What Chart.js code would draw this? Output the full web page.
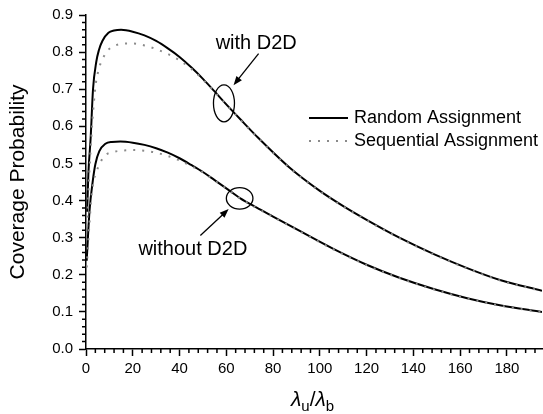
<!DOCTYPE html>
<html>
<head>
<meta charset="utf-8">
<script src="https://cdn.jsdelivr.net/npm/chart.js@4/dist/chart.umd.min.js"></script>
<style>
  html, body { margin: 0; padding: 0; background: #fff; }
  #wrap { width: 543px; height: 414px; }
</style>
</head>
<body>
<div id="wrap"><canvas id="chartCoverage"></canvas></div>
<script>
// values (x = lambda_u / lambda_b)
const randomWithD2dX = [0.5, 1, 2, 3, 4.4, 5.5, 7, 9.6, 12, 15, 20, 25, 30, 35, 40, 45, 50, 55, 59, 66, 73, 87, 100, 110, 120, 134, 149, 163, 177, 195];
const randomWithD2dY = [0.37, 0.47, 0.57, 0.70, 0.774, 0.805, 0.83, 0.852, 0.858, 0.86, 0.855, 0.845, 0.83, 0.81, 0.787, 0.759, 0.728, 0.694, 0.666, 0.619, 0.573, 0.489, 0.426, 0.385, 0.348, 0.300, 0.255, 0.218, 0.186, 0.157];

const sequentialWithD2dX = [0.5, 1, 2, 2.7, 3.3, 4.3, 5.2, 6.2, 7.9, 10, 13.4, 17, 20, 25, 30, 35, 40, 45, 50, 55, 59, 66, 73, 87, 100, 110, 120, 134, 149, 163, 177, 195];
const sequentialWithD2dY = [0.33, 0.42, 0.54, 0.61, 0.66, 0.72, 0.747, 0.769, 0.791, 0.809, 0.82, 0.823, 0.823, 0.818, 0.808, 0.795, 0.778, 0.755, 0.726, 0.693, 0.665, 0.618, 0.572, 0.488, 0.425, 0.384, 0.347, 0.299, 0.254, 0.217, 0.185, 0.156];

const randomWithoutD2dX = [0.3, 1.5, 2.9, 4, 5.7, 8.3, 11, 14.7, 20, 25, 30, 35, 40, 45, 50, 55, 60, 66, 73, 80, 92, 106, 120, 134, 149, 163, 177, 195];
const randomWithoutD2dY = [0.238, 0.372, 0.453, 0.498, 0.533, 0.553, 0.558, 0.559, 0.556, 0.55, 0.541, 0.529, 0.514, 0.496, 0.477, 0.455, 0.433, 0.406, 0.381, 0.357, 0.316, 0.269, 0.227, 0.192, 0.161, 0.137, 0.118, 0.1];

const sequentialWithoutD2dX = [0.3, 1.5, 2.3, 3.3, 4.3, 5.7, 7.9, 11.8, 16, 20, 25, 30, 35, 40, 45, 50, 55, 60, 66, 73, 80, 92, 106, 120, 134, 149, 163, 177, 195];
const sequentialWithoutD2dY = [0.22, 0.34, 0.41, 0.453, 0.475, 0.497, 0.52, 0.531, 0.535, 0.536, 0.534, 0.529, 0.52, 0.508, 0.493, 0.476, 0.454, 0.432, 0.405, 0.38, 0.356, 0.315, 0.268, 0.226, 0.191, 0.16, 0.136, 0.117, 0.099];

const seriesLabels = ['Random Assignment', 'Sequential Assignment'];
const yTickLabels = ['0.0', '0.1', '0.2', '0.3', '0.4', '0.5', '0.6', '0.7', '0.8', '0.9'];
const xTickStep = 20;
const xMax = 195;

const FONT = '"Liberation Sans", Arial, sans-serif';

const toPoints = (xs, ys) => xs.map((x, i) => ({ x, y: ys[i] }));

const solid = { borderColor: '#000', borderWidth: 2, order: 2 };
const dotted = { borderColor: '#8a8a8a', borderWidth: 2, borderDash: [2, 7], order: 1 };

const minorTicks = {
  id: 'minorTicks',
  afterDraw(chart) {
    const { ctx, scales: { x, y } } = chart;
    ctx.save();
    ctx.strokeStyle = '#000';
    ctx.lineWidth = 1.5;
    ctx.beginPath();
    for (let v = 4; v <= xMax; v += 4) {
      if (v % xTickStep === 0) continue;
      const px = x.getPixelForValue(v);
      ctx.moveTo(px, y.bottom);
      ctx.lineTo(px, y.bottom + 4);
    }
    for (let i = 1; i <= 45; i++) {
      if (i % 5 === 0) continue;
      const py = y.getPixelForValue(i * 0.02);
      ctx.moveTo(x.left, py);
      ctx.lineTo(x.left - 4, py);
    }
    ctx.stroke();
    ctx.restore();
  }
};

const drawArrow = (ctx, x1, y1, x2, y2) => {
  const a = Math.atan2(y2 - y1, x2 - x1);
  ctx.beginPath();
  ctx.moveTo(x1, y1);
  ctx.lineTo(x2 - 6 * Math.cos(a), y2 - 6 * Math.sin(a));
  ctx.stroke();
  ctx.beginPath();
  ctx.moveTo(x2, y2);
  ctx.lineTo(x2 - 9 * Math.cos(a) + 3.5 * Math.sin(a), y2 - 9 * Math.sin(a) - 3.5 * Math.cos(a));
  ctx.lineTo(x2 - 9 * Math.cos(a) - 3.5 * Math.sin(a), y2 - 9 * Math.sin(a) + 3.5 * Math.cos(a));
  ctx.closePath();
  ctx.fill();
};

const notes = {
  id: 'notes',
  afterDraw(chart) {
    const { ctx, scales: { x, y } } = chart;
    const px = v => x.getPixelForValue(v);
    const py = v => y.getPixelForValue(v);
    ctx.save();
    ctx.strokeStyle = '#000';
    ctx.fillStyle = '#000';
    ctx.lineWidth = 1.3;

    // ellipses around the curves
    ctx.beginPath();
    ctx.ellipse(px(59), py(0.662), 10.5, 18.5, 0, 0, Math.PI * 2);
    ctx.stroke();
    ctx.beginPath();
    ctx.ellipse(px(65.7), py(0.406), 13.3, 10.8, 0, 0, Math.PI * 2);
    ctx.stroke();

    drawArrow(ctx, px(73.8), py(0.796), px(63.1), py(0.711));
    drawArrow(ctx, px(48.9), py(0.306), px(61), py(0.377));

    ctx.font = '20px ' + FONT;
    ctx.textAlign = 'center';
    ctx.textBaseline = 'middle';
    ctx.fillText('with D2D', px(72.8), py(0.824));
    ctx.fillText('without D2D', px(45.7), py(0.268));

    // legend
    const ds = chart.data.datasets;
    ctx.font = '18px ' + FONT;
    ctx.textAlign = 'left';
    [0, 1].forEach(i => {
      const rowY = 118 + i * 23;
      ctx.save();
      ctx.strokeStyle = ds[i].borderColor;
      ctx.lineWidth = ds[i].borderWidth;
      ctx.setLineDash(ds[i].borderDash || []);
      ctx.beginPath();
      ctx.moveTo(309, rowY);
      ctx.lineTo(348, rowY);
      ctx.stroke();
      ctx.restore();
      ctx.fillText(ds[i].label, 354, rowY);
    });

    // x-axis title: lambda_u / lambda_b
    ctx.textBaseline = 'alphabetic';
    let cx = 291;
    const base = 406;
    const part = (txt, font, dy) => {
      ctx.font = font;
      ctx.fillText(txt, cx, base + dy);
      cx += ctx.measureText(txt).width;
    };
    part('λ', 'italic 21px ' + FONT, 0);
    part('u', '15px ' + FONT, 5);
    part('/', '21px ' + FONT, 0);
    part('λ', 'italic 21px ' + FONT, 0);
    part('b', '15px ' + FONT, 5);
    ctx.restore();
  }
};

const context = document.getElementById('chartCoverage').getContext('2d');
const chart = new Chart(context, {
  type: 'line',
  data: {
    datasets: [
      { label: seriesLabels[0], data: toPoints(randomWithD2dX, randomWithD2dY), ...solid },
      { label: seriesLabels[1], data: toPoints(sequentialWithD2dX, sequentialWithD2dY), ...dotted },
      { label: seriesLabels[0] + ' (without D2D)', data: toPoints(randomWithoutD2dX, randomWithoutD2dY), ...solid },
      { label: seriesLabels[1] + ' (without D2D)', data: toPoints(sequentialWithoutD2dX, sequentialWithoutD2dY), ...dotted }
    ]
  },
  options: {
    responsive: true,
    maintainAspectRatio: false,
    animation: false,
    elements: {
      point: { radius: 0 },
      line: { cubicInterpolationMode: 'monotone', fill: false }
    },
    layout: { padding: { top: 13, right: 1, left: 0, bottom: 0 } },
    plugins: {
      legend: { display: false },
      tooltip: { enabled: false }
    },
    scales: {
      x: {
        type: 'linear',
        min: 0,
        max: xMax,
        border: { display: true, color: '#000', width: 1.5 },
        grid: { drawOnChartArea: false, drawTicks: true, tickLength: 7, tickColor: '#000', tickWidth: 1.5 },
        ticks: {
          stepSize: xTickStep,
          includeBounds: false,
          maxRotation: 0,
          padding: 4,
          color: '#000',
          font: { family: FONT, size: 15 }
        },
        afterFit: scale => { scale.height = 65; }
      },
      y: {
        min: 0,
        max: 0.9,
        border: { display: true, color: '#000', width: 1.5 },
        grid: { drawOnChartArea: false, drawTicks: true, tickLength: 7, tickColor: '#000', tickWidth: 1.5 },
        ticks: {
          stepSize: 0.1,
          padding: 6,
          color: '#000',
          font: { family: FONT, size: 15 },
          callback: value => yTickLabels[Math.round(value * 10)]
        },
        title: {
          display: true,
          text: 'Coverage Probability',
          color: '#000',
          font: { family: FONT, size: 21 },
          padding: { top: 6, bottom: 0 }
        },
        afterFit: scale => { scale.width = 86; }
      }
    }
  },
  plugins: [minorTicks, notes]
});
</script>
</body>
</html>
